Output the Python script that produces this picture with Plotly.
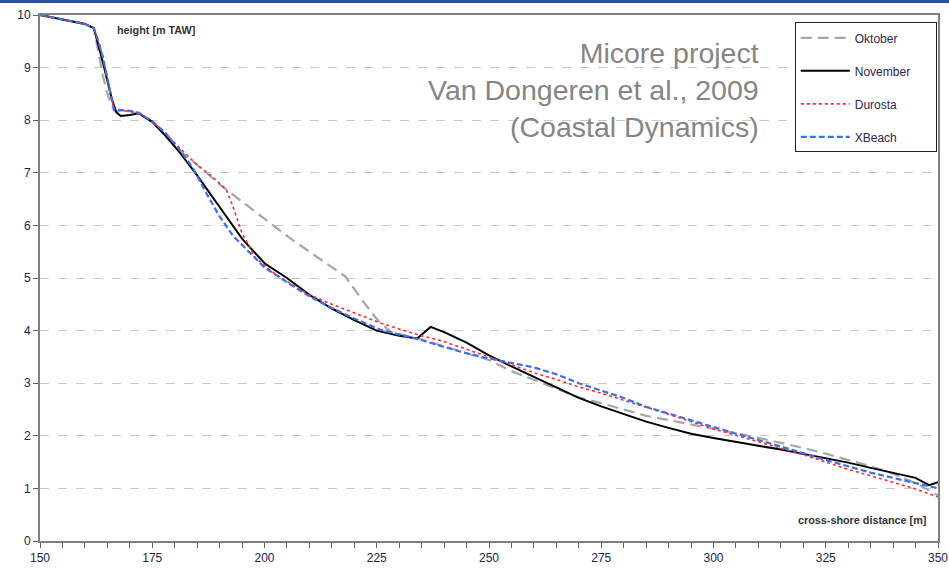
import plotly.graph_objects as go

# ---------------- data ----------------
x_okt = [150, 155, 160, 162, 163, 164, 165, 166.5, 170, 172, 175, 178, 181, 185, 190, 195, 200, 205, 210,
         215, 218, 222, 225, 228, 235, 240, 245, 250, 255, 260, 265, 270, 275, 280, 285, 290, 295, 300,
         305, 310, 315, 320, 325, 330, 335, 340, 345, 350]
y_okt = [10.0, 9.92, 9.83, 9.75, 9.3, 8.85, 8.5, 8.18, 8.17, 8.12, 7.97, 7.72, 7.42, 7.15, 6.78, 6.45, 6.13,
         5.8, 5.5, 5.2, 5.03, 4.55, 4.22, 3.98, 3.83, 3.7, 3.57, 3.44, 3.23, 3.06, 2.89, 2.73, 2.62, 2.5,
         2.38, 2.3, 2.22, 2.14, 2.05, 1.96, 1.87, 1.77, 1.66, 1.54, 1.42, 1.28, 1.1, 0.87]

x_nov = [150, 155, 160, 162, 163, 164, 165, 166, 167, 168, 170, 172, 175, 178, 181, 185, 190, 195, 200,
         205, 210, 215, 220, 225, 230, 234, 237, 240, 245, 250, 255, 260, 265, 270, 275, 280, 285, 290,
         295, 300, 305, 310, 315, 320, 325, 330, 335, 340, 345, 348, 350]
y_nov = [10.0, 9.92, 9.83, 9.75, 9.45, 9.1, 8.75, 8.4, 8.15, 8.08, 8.1, 8.13, 7.97, 7.7, 7.4, 6.95, 6.35,
         5.75, 5.28, 5.0, 4.68, 4.42, 4.2, 4.0, 3.9, 3.85, 4.07, 3.97, 3.77, 3.53, 3.32, 3.12, 2.91, 2.72,
         2.56, 2.42, 2.27, 2.15, 2.04, 1.96, 1.88, 1.81, 1.74, 1.66, 1.57, 1.49, 1.39, 1.29, 1.2, 1.06, 1.12]

x_dur = [150, 155, 160, 162, 163, 164, 165, 166.5, 170, 172, 175, 178, 181, 185, 188, 191.5, 193, 195, 198,
         202, 206, 210, 215, 220, 226, 230, 235, 240, 245, 250, 255, 260, 265, 270, 275, 280, 285, 290,
         295, 300, 305, 310, 315, 320, 325, 330, 335, 340, 345, 350]
y_dur = [10.0, 9.92, 9.83, 9.75, 9.5, 9.2, 8.8, 8.2, 8.17, 8.14, 7.98, 7.75, 7.48, 7.15, 6.95, 6.68, 6.35,
         5.85, 5.38, 5.1, 4.88, 4.68, 4.5, 4.33, 4.14, 4.03, 3.9, 3.79, 3.65, 3.5, 3.35, 3.2, 3.07, 2.93,
         2.81, 2.68, 2.54, 2.41, 2.27, 2.13, 2.01, 1.89, 1.77, 1.64, 1.5, 1.36, 1.24, 1.12, 0.99, 0.84]

x_xb = [150, 155, 160, 162, 163, 164, 165, 166.5, 170, 172, 175, 178, 181, 184, 187, 190, 193, 196, 200,
        205, 210, 215, 220, 226, 230, 235, 240, 245, 250, 255, 260, 265, 270, 275, 280, 285, 290, 295,
        300, 305, 310, 315, 320, 325, 330, 335, 340, 345, 350]
y_xb = [10.0, 9.92, 9.83, 9.75, 9.5, 9.2, 8.8, 8.2, 8.18, 8.14, 7.98, 7.75, 7.45, 7.1, 6.62, 6.17, 5.8,
        5.55, 5.2, 4.92, 4.65, 4.43, 4.23, 4.01, 3.93, 3.82, 3.69, 3.57, 3.47, 3.38, 3.3, 3.17, 3.0, 2.86,
        2.72, 2.55, 2.42, 2.29, 2.16, 2.04, 1.92, 1.8, 1.67, 1.54, 1.42, 1.3, 1.2, 1.1, 1.0]

x_ticks = [150, 175, 200, 225, 250, 275, 300, 325, 350]
y_ticks = [0, 1, 2, 3, 4, 5, 6, 7, 8, 9, 10]
series_names = ["Oktober", "November", "Durosta", "XBeach"]

FONT = "Liberation Sans, Arial, sans-serif"
TXT = "#23234a"
PAD = "\u00a0" * 6  # right padding inside the legend box

fig = go.Figure()
fig.add_trace(go.Scatter(x=x_okt, y=y_okt, mode="lines", name=series_names[0], legendgroup="a",
                         line=dict(color="#a6a6a6", width=2.2, dash="11px,6px")))
fig.add_trace(go.Scatter(x=x_nov, y=y_nov, mode="lines", name=series_names[1] + PAD, legendgroup="b",
                         line=dict(color="#000000", width=2)))
fig.add_trace(go.Scatter(x=x_dur, y=y_dur, mode="lines", name=series_names[2], legendgroup="c",
                         line=dict(color="#ff2a2a", width=1.6, dash="dot")))
fig.add_trace(go.Scatter(x=x_xb, y=y_xb, mode="lines", name=series_names[3], legendgroup="d",
                         line=dict(color="#3d6ff0", width=2.2, dash="6px,3px")))

fig.update_layout(
    width=949, height=569,
    margin=dict(l=40, r=11, t=15, b=28, autoexpand=False),
    paper_bgcolor="white", plot_bgcolor="white",
    font=dict(family=FONT, size=12, color=TXT),
    legend=dict(x=0.8405, y=0.986, xanchor="left", yanchor="top",
                bordercolor="#222222", borderwidth=1, bgcolor="white",
                font=dict(size=12, color="#2e2550"), tracegroupgap=14,
                itemwidth=49),
    showlegend=True,
)
fig.update_xaxes(range=[150, 350], tickvals=x_ticks, ticktext=[str(v) for v in x_ticks],
                 showgrid=False, zeroline=False, automargin=False,
                 showline=True, linecolor="#808080", linewidth=2, mirror=True,
                 ticks="outside", ticklen=5, tickcolor="#606060",
                 minor=dict(dtick=5, tick0=150, ticks="outside", ticklen=5, tickcolor="#606060", showgrid=False),
                 tickfont=dict(size=12, color=TXT))
fig.update_yaxes(range=[0, 10], tickvals=y_ticks, ticktext=[str(v) for v in y_ticks],
                 showgrid=True, gridcolor="#c8c8c8", griddash="dash", gridwidth=1,
                 zeroline=False, automargin=False,
                 showline=True, linecolor="#808080", linewidth=2, mirror=True,
                 ticks="outside", ticklen=5, tickcolor="#606060",
                 tickfont=dict(size=12, color=TXT))

# axis labels inside the plot
fig.add_annotation(xref="paper", yref="paper", x=0.084, y=0.971, xanchor="left", yanchor="middle",
                   text="<b>height [m TAW]</b>", showarrow=False,
                   font=dict(size=10.8, color="#333333", family=FONT))
fig.add_annotation(xref="paper", yref="paper", x=0.989, y=0.04, xanchor="right", yanchor="middle",
                   text="<b>cross-shore distance [m]</b>", showarrow=False,
                   font=dict(size=10.8, color="#333333", family=FONT))

# source text
fig.add_annotation(xref="paper", yref="paper", x=0.803, y=0.962, xanchor="right", yanchor="top",
                   text="Micore project<br>Van Dongeren et al., 2009<br>(Coastal Dynamics)",
                   align="right", showarrow=False,
                   font=dict(size=28.5, color="#858585", family=FONT))

# slide bar at the top
fig.add_shape(type="rect", xref="paper", yref="paper", x0=-0.1, x1=1.1,
              y0=1 + 12 / 526, y1=1 + 15.5 / 526, fillcolor="#2f4f9f", line=dict(width=0), layer="above")

fig.write_html("out.html", config={"displayModeBar": False},
               post_script="document.body.style.margin='0';document.body.style.overflow='hidden';")
